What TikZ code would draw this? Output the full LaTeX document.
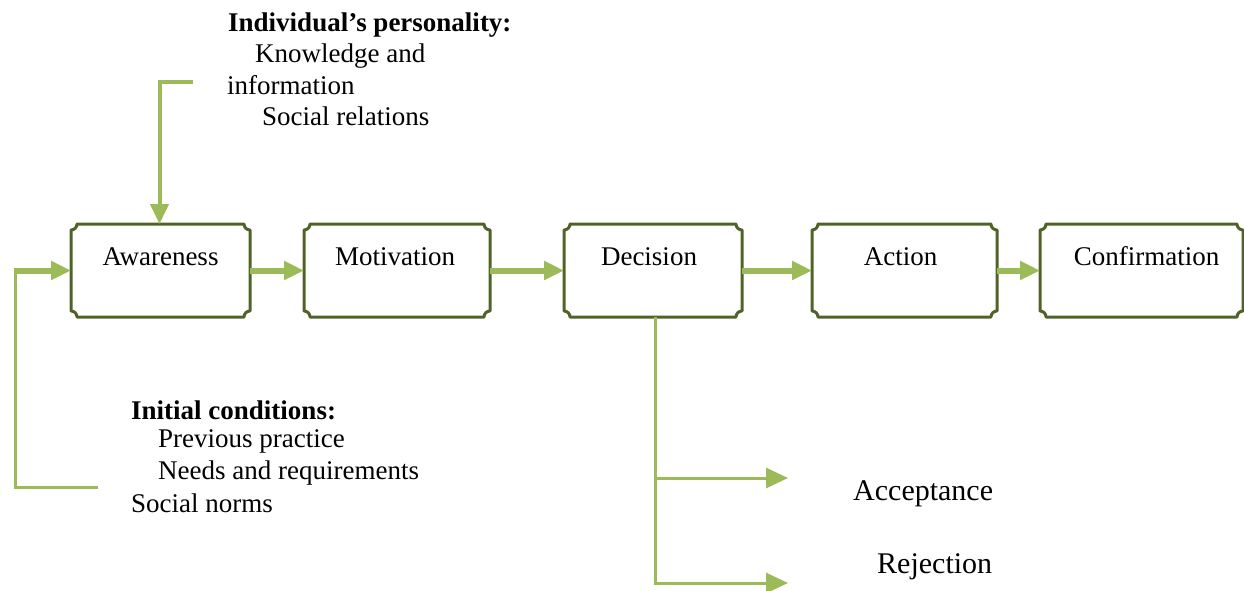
\documentclass[tikz,border=0pt]{standalone}
\usepackage{fontspec}
\setmainfont{Liberation Serif}
\usetikzlibrary{arrows.meta,calc}

\definecolor{leaf}{HTML}{9BBB59}
\definecolor{olive}{HTML}{4F6228}

% box outline with small concave (scooped) corners
\newcommand\scoopbox[1]{%
  \draw[boxline]
    ([xshift=6pt]#1.north west) -- ([xshift=-6pt]#1.north east)
    arc[start angle=180,end angle=270,radius=6pt]
    -- ([yshift=6pt]#1.south east)
    arc[start angle=90,end angle=180,radius=6pt]
    -- ([xshift=6pt]#1.south west)
    arc[start angle=0,end angle=90,radius=6pt]
    -- ([yshift=-6pt]#1.north west)
    arc[start angle=270,end angle=360,radius=6pt]
    -- cycle;}

\begin{document}
\begin{tikzpicture}[x=1pt,y=-1pt,
  every node/.style={font=\fontsize{27pt}{31pt}\selectfont},
  stagebox/.style={inner sep=0pt,outer sep=0pt,minimum height=93pt,
    text height=18pt,text depth=29pt,align=center},
  boxline/.style={draw=olive,line width=3pt,line join=round},
  flowarrow/.style={draw=leaf,line width=6pt,
    -{Triangle[length=20pt,width=18pt]}},
  feedarrow/.style={draw=leaf,line width=4pt,
    -{Triangle[length=20pt,width=18pt]}},
  branchline/.style={draw=leaf,line width=3pt},
  brancharrow/.style={draw=leaf,line width=3pt,
    -{Triangle[length=22pt,width=20pt]}},
  sidetext/.style={anchor=base west,inner sep=0pt},
  outcome/.style={anchor=base west,inner sep=0pt,
    font=\fontsize{30pt}{34pt}\selectfont}]

\useasboundingbox (0,0) rectangle (1244,590);

% stages of the process
\node[stagebox,minimum width=179pt] (aw) at (160.5,270.5) {Awareness};
\node[stagebox,minimum width=186pt] (mo) at (397,270.5) {\hspace*{-4pt}Motivation};
\node[stagebox,minimum width=178pt] (de) at (653,270.5) {\hspace*{-8pt}Decision};
\node[stagebox,minimum width=185pt] (ac) at (904.5,270.5) {\hspace*{-8pt}Action};
\node[stagebox,minimum width=203pt] (co) at (1141.5,270.5) {\hspace*{10pt}Confirmation};
\foreach \n in {aw,mo,de,ac,co}{\scoopbox{\n}}

% main flow
\draw[flowarrow] (aw.east) -- (mo.west);
\draw[flowarrow] (mo.east) -- (de.west);
\draw[flowarrow] (de.east) -- (ac.west);
\draw[flowarrow] (ac.east) -- (co.west);

% personality input from above
\node[sidetext,font=\bfseries\fontsize{27pt}{31pt}\selectfont] (ip) at (228,31) {Individual’s personality:};
\node[sidetext] (ki) at (255,62) {Knowledge and};
\node[sidetext] (inf) at (227,94) {information};
\node[sidetext] (sr) at (262,125) {Social relations};
\coordinate (t1) at (193,81.5);
\coordinate (t2) at (159.5,81.5);
\draw[feedarrow] (t1) -- (t2) -- (t2 |- aw.north);

% initial conditions input from the left
\node[sidetext,font=\bfseries\fontsize{27pt}{31pt}\selectfont] (ic) at (131,419) {Initial conditions:};
\node[sidetext] (pp) at (158,447) {Previous practice};
\node[sidetext] (nr) at (158,479) {Needs and requirements};
\node[sidetext] (sn) at (131,512) {Social norms};
\coordinate (l1) at (98,487);
\coordinate (l2) at (15.5,487);
\draw[branchline] (l1) -- (l2) -- ($(l2 |- aw.west)+(0,-1.5)$);
\draw[flowarrow] ($(l2 |- aw.west)+(-1.5,0)$) -- (aw.west);

% outcomes of the decision
\node[outcome] (acc) at (853,500) {Acceptance};
\node[outcome] (rej) at (877,573) {Rejection};
\coordinate (d0) at ([xshift=2pt]de.south);
\coordinate (d1) at ($(d0)+(0,161)$);
\coordinate (d2) at ($(d0)+(0,266)$);
\coordinate (a1) at (788,478);
\coordinate (a2) at (788,583);
\draw[branchline] (d0) -- ($(d2)+(0,1.5)$);
\draw[brancharrow] ($(d1)+(-1.5,0)$) -- (a1);
\draw[brancharrow] ($(d2)+(-1.5,0)$) -- (a2);
\end{tikzpicture}
\end{document}
